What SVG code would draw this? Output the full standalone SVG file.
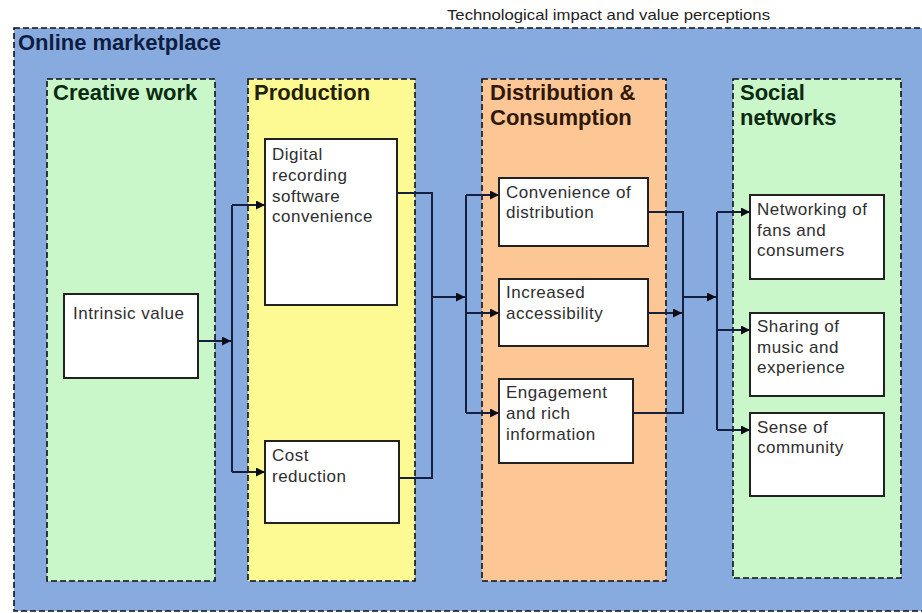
<svg xmlns="http://www.w3.org/2000/svg" width="922" height="613" viewBox="0 0 922 613">
  <defs>
    <marker id="arrow" viewBox="0 0 10 10" refX="10" refY="5" markerWidth="10" markerHeight="9" markerUnits="userSpaceOnUse" orient="auto">
      <path d="M0,0 L10,5 L0,10 z" fill="#0b0b14"/>
    </marker>
    <style>
      .panel { stroke: #111; stroke-width: 1.6; stroke-dasharray: 6 3; }
      .box { fill: #ffffff; stroke: #222; stroke-width: 2; }
      .title { font-family: "Liberation Sans", Arial, sans-serif; font-weight: bold; font-size: 22px; }
      .label { font-family: "Liberation Sans", Arial, sans-serif; font-size: 17px; letter-spacing: 0.5px; fill: #2e2e2e; }
      .wire { fill: none; stroke: #152040; stroke-width: 2; }
    </style>
  </defs>

  <rect x="0" y="0" width="922" height="613" fill="#ffffff"/>

  <text x="447" y="20" font-family="Liberation Sans, Arial, sans-serif" font-size="15" fill="#222" textLength="323" lengthAdjust="spacingAndGlyphs">Technological impact and value perceptions</text>

  <!-- outer container -->
  <g id="online-marketplace">
    <rect x="14" y="28" width="930" height="583" fill="#88abdf" class="panel"/>
    <text x="18" y="50" class="title" fill="#0e1d42">Online marketplace</text>
  </g>

  <!-- stage panels -->
  <g id="creative-work">
    <rect x="47" y="79" width="168" height="502" fill="#c9f7c9" class="panel"/>
    <text x="53" y="100" class="title" fill="#0b2a10">Creative work</text>
  </g>
  <g id="production">
    <rect x="248" y="79" width="167" height="502" fill="#fdf993" class="panel"/>
    <text x="254" y="100" class="title" fill="#241f05">Production</text>
  </g>
  <g id="distribution-consumption">
    <rect x="482" y="79" width="184" height="502" fill="#fcc795" class="panel"/>
    <text x="490" y="100" class="title" fill="#301808">Distribution &amp;</text>
    <text x="490" y="125" class="title" fill="#301808">Consumption</text>
  </g>
  <g id="social-networks">
    <rect x="733" y="79" width="168" height="499" fill="#c9f7c9" class="panel"/>
    <text x="740" y="100" class="title" fill="#0b2a10">Social</text>
    <text x="740" y="125" class="title" fill="#0b2a10">networks</text>
  </g>

  <!-- value nodes -->
  <g id="intrinsic-value">
    <rect x="64" y="294" width="134" height="84" class="box"/>
    <text x="73" y="319" class="label">Intrinsic value</text>
  </g>
  <g id="digital-recording">
    <rect x="265" y="139" width="132" height="166" class="box"/>
    <text class="label"><tspan x="272" y="159.5">Digital</tspan><tspan x="272" y="181">recording</tspan><tspan x="272" y="201.5">software</tspan><tspan x="272" y="222">convenience</tspan></text>
  </g>
  <g id="cost-reduction">
    <rect x="265" y="441" width="134" height="82" class="box"/>
    <text class="label"><tspan x="272" y="461">Cost</tspan><tspan x="272" y="482">reduction</tspan></text>
  </g>
  <g id="convenience-of-distribution">
    <rect x="499" y="178" width="149" height="68" class="box"/>
    <text class="label"><tspan x="506" y="198">Convenience  of</tspan><tspan x="506" y="218">distribution</tspan></text>
  </g>
  <g id="increased-accessibility">
    <rect x="499" y="279" width="149" height="67" class="box"/>
    <text class="label"><tspan x="506" y="298">Increased</tspan><tspan x="506" y="319">accessibility</tspan></text>
  </g>
  <g id="engagement">
    <rect x="499" y="379" width="134" height="84" class="box"/>
    <text class="label"><tspan x="506" y="398">Engagement</tspan><tspan x="506" y="419">and rich</tspan><tspan x="506" y="440">information</tspan></text>
  </g>
  <g id="networking">
    <rect x="750" y="195" width="134" height="84" class="box"/>
    <text class="label"><tspan x="757" y="215">Networking of</tspan><tspan x="757" y="236">fans and</tspan><tspan x="757" y="256">consumers</tspan></text>
  </g>
  <g id="sharing">
    <rect x="750" y="313" width="134" height="83" class="box"/>
    <text class="label"><tspan x="757" y="332">Sharing of</tspan><tspan x="757" y="353">music and</tspan><tspan x="757" y="373">experience</tspan></text>
  </g>
  <g id="sense-of-community">
    <rect x="750" y="413" width="134" height="83" class="box"/>
    <text class="label"><tspan x="757" y="433">Sense of</tspan><tspan x="757" y="453">community</tspan></text>
  </g>

  <!-- connectors -->
  <g id="connectors">
    <path class="wire" d="M198,341 H231" marker-end="url(#arrow)"/>
    <path class="wire" d="M232,205 V472"/>
    <path class="wire" d="M232,205 H265" marker-end="url(#arrow)"/>
    <path class="wire" d="M232,472 H265" marker-end="url(#arrow)"/>

    <path class="wire" d="M397,193 H432 V478 H399"/>
    <path class="wire" d="M432,297 H465" marker-end="url(#arrow)"/>
    <path class="wire" d="M466,195 V413"/>
    <path class="wire" d="M466,195 H499" marker-end="url(#arrow)"/>
    <path class="wire" d="M466,313 H499" marker-end="url(#arrow)"/>
    <path class="wire" d="M466,413 H499" marker-end="url(#arrow)"/>

    <path class="wire" d="M648,212 H683 V413 H633"/>
    <path class="wire" d="M648,313 H682" marker-end="url(#arrow)"/>
    <path class="wire" d="M683,297 H716" marker-end="url(#arrow)"/>
    <path class="wire" d="M717,212 V430"/>
    <path class="wire" d="M717,212 H750" marker-end="url(#arrow)"/>
    <path class="wire" d="M717,330 H750" marker-end="url(#arrow)"/>
    <path class="wire" d="M717,430 H750" marker-end="url(#arrow)"/>
  </g>
</svg>
